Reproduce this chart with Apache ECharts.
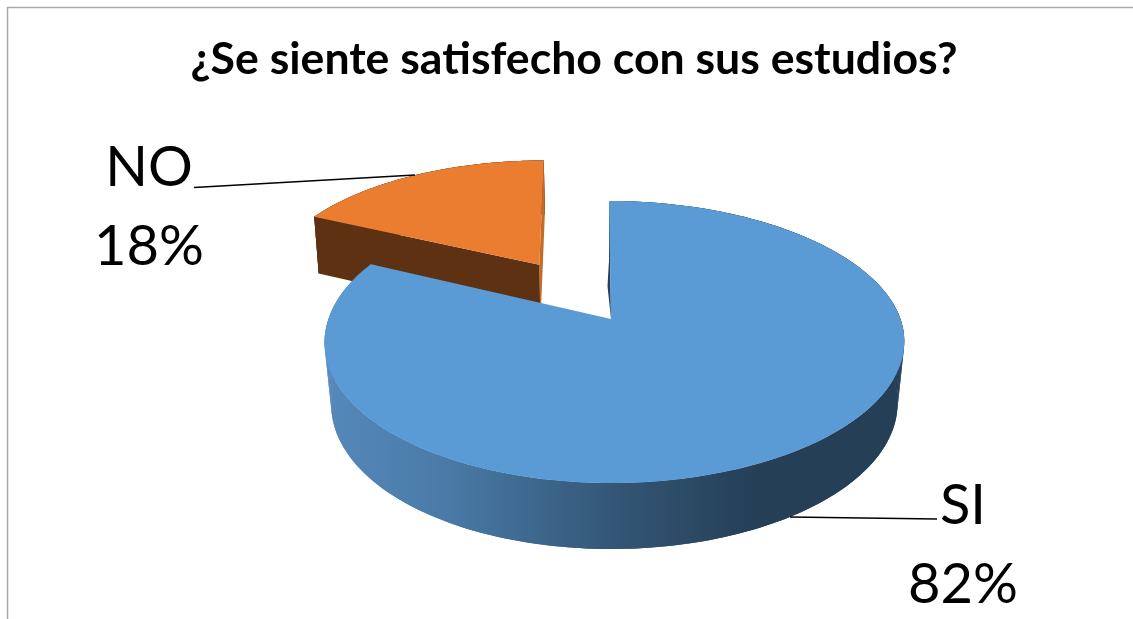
<!DOCTYPE html>
<html>
<head>
<meta charset="utf-8">
<style>html,body{margin:0;padding:0;background:#fff}#c{width:1133px;height:619px}</style>
<script src="https://cdn.jsdelivr.net/npm/echarts@6/dist/echarts.min.js"></script>
</head>
<body>
<div id="c"></div>
<script>
const titleText = '¿Se siente satisfecho con sus estudios?';
const categories = ['SI', 'NO'];
const percents = [82, 18];

const FONT = 'Lato';
// Perspective model of the pie plane (fitted to the reference)
const CAM = {x: 611, y: 319, rx: 286, ry: 137.3, k: 0.163};
const LOOK = [
  {explode: 0,   a: 3.5, b: 2, wallX: 0.977, wall: null, radial: null, face: '#5b9bd5', z: 10},
  {explode: 0.5, a: 0,   b: 5, wallX: 0.985, wall: '#5f3113', radial: '#c46c2c', face: '#eb7d31', z: 1}
];
const LABELS = [
  {x: 963, y: 466.5, line: [[790, 517], [937, 519]]},
  {x: 149, y: 128, line: [[194, 187.5], [415, 175]]}
];
const total = percents.reduce((s, v) => s + v, 0);

function project(r, t, look, mid) {
  const ul = r * Math.sin(t), vl = r * Math.cos(t);
  const u = ul + look.explode * Math.sin(mid), v = vl + look.explode * Math.cos(mid);
  const s = 1 / (1 + CAM.k * v);
  return {
    x: CAM.x + CAM.rx * u * s + look.a * ul * ul - look.b * Math.max(vl, 0),
    y: CAM.y - CAM.ry * v * s,
    v: v
  };
}
function lower(p, look) {
  return [613.5 + (p.x - 613.5) * look.wallX, p.y + 61 - 5 * p.v];
}
function renderItem(params, api) {
  const i = params.dataIndex;
  const look = LOOK[i];
  const value = api.value(1);
  let before = 0;
  for (let j = 0; j < i; j++) before += percents[j];
  const t0 = before / total * 2 * Math.PI;
  const t1 = (before + value) / total * 2 * Math.PI;
  const mid = (t0 + t1) / 2;
  const top = [], bot = [];
  const n = Math.ceil((t1 - t0) / (Math.PI / 180));
  for (let q = 0; q <= n; q++) {
    const p = project(1, t0 + (t1 - t0) * q / n, look, mid);
    top.push([p.x, p.y]);
    bot.push(lower(p, look));
  }
  const apex = project(0, 0, look, mid);
  const apexB = lower(apex, look);
  const kids = [];
  const wallFill = look.wall || new echarts.graphic.LinearGradient(325, 0, 905, 0, [
    {offset: 0, color: '#5589bb'},
    {offset: 0.2, color: '#4a7ba8'},
    {offset: 0.5, color: '#335676'},
    {offset: 0.65, color: '#2b4862'},
    {offset: 0.75, color: '#243f56'},
    {offset: 1, color: '#243f56'}
  ], true);
  kids.push({type: 'polygon', z2: look.z, shape: {points: top.concat(bot.slice().reverse())}, style: {fill: wallFill}});
  // quads along the rim so the silhouette runs straight from the top edge to the lower edge
  for (let q = 0; q < n; q += 2) {
    const e = Math.min(q + 2, n);
    kids.push({type: 'polygon', z2: look.z, silent: true,
      shape: {points: [top[q], top[e], bot[e], bot[q]]}, style: {fill: wallFill}});
  }
  if (look.radial) {
    // inner wall behind the end edge of the slice
    kids.push({type: 'polygon', z2: look.z + 1,
      shape: {points: [top[n], [apex.x, apex.y], apexB, bot[n]]}, style: {fill: look.radial}});
    // inner wall behind the start edge of the slice
    kids.push({type: 'polygon', z2: look.z + 1,
      shape: {points: [top[0], [apex.x, apex.y], apexB, bot[0]]}, style: {fill: look.wall}});
  } else {
    // thin dark sliver along the start edge of the slice
    const a = project(0.58, t0, look, mid), m = project(0.25, t0, look, mid);
    kids.push({type: 'polygon', z2: look.z + 1,
      shape: {points: [[a.x, a.y], [apex.x, apex.y], [m.x - 3, m.y]]}, style: {fill: '#24405a'}});
  }
  kids.push({type: 'polygon', z2: look.z + 2,
    shape: {points: [[apex.x, apex.y]].concat(top)}, style: {fill: look.face}});
  const lab = LABELS[i];
  kids.push({type: 'line', z2: 30,
    shape: {x1: lab.line[0][0], y1: lab.line[0][1], x2: lab.line[1][0], y2: lab.line[1][1]},
    style: {stroke: '#000', lineWidth: 1.4}});
  kids.push({type: 'text', z2: 31, x: lab.x, y: lab.y,
    style: {text: categories[api.value(0)] + '\n' + value + '%',
      font: '56px ' + FONT, fill: '#000', align: 'center', verticalAlign: 'top', lineHeight: 79}});
  return {type: 'group', children: kids};
}

const chart = echarts.init(document.getElementById('c'), null, {renderer: 'canvas'});
chart.setOption({
  animation: false,
  backgroundColor: '#fff',
  title: {text: titleText, left: 574, top: 37, textAlign: 'center', padding: 0,
    textStyle: {fontFamily: FONT, fontWeight: 'bold', fontSize: 44.6, color: '#000'}},
  graphic: [
    {type: 'line', shape: {x1: 7, y1: 7.5, x2: 1133, y2: 7.5}, style: {stroke: '#a9a9a9', lineWidth: 1.5}},
    {type: 'line', shape: {x1: 7.5, y1: 7, x2: 7.5, y2: 619}, style: {stroke: '#a9a9a9', lineWidth: 1.5}}
  ],
  series: [{
    type: 'custom',
    coordinateSystem: 'none',
    renderItem: renderItem,
    encode: {tooltip: [1]},
    data: categories.map((c, i) => [i, percents[i]])
  }]
});
</script>
</body>
</html>
